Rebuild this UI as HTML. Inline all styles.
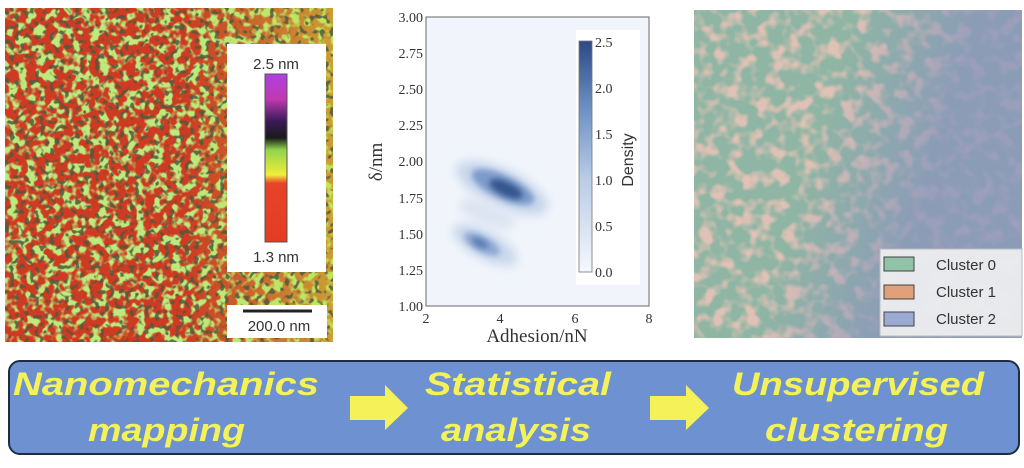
<!DOCTYPE html>
<html><head><meta charset="utf-8"><style>
html,body{margin:0;padding:0;background:#fff;width:1024px;height:468px;overflow:hidden}
svg{display:block}
</style></head><body>
<svg width="1024" height="468" viewBox="0 0 1024 468" xmlns="http://www.w3.org/2000/svg">
<defs>
<filter id="green" x="0" y="0" width="100%" height="100%">
<feTurbulence type="fractalNoise" baseFrequency="0.11" numOctaves="2" seed="4"/>
<feColorMatrix type="matrix" values="0 0 0 0 0.5  0 0 0 0 0.82  0 0 0 0 0.2  7 0 0 0 -3.3"/>
</filter>
<filter id="dark" x="0" y="0" width="100%" height="100%">
<feTurbulence type="fractalNoise" baseFrequency="0.2" numOctaves="1" seed="9"/>
<feColorMatrix type="matrix" values="0 0 0 0 0.08  0 0 0 0 0.1  0 0 0 0 0.05  9 0 0 0 -4.9"/>
</filter>
<filter id="orange" x="0" y="0" width="100%" height="100%">
<feTurbulence type="fractalNoise" baseFrequency="0.07" numOctaves="2" seed="7"/>
<feColorMatrix type="matrix" values="0 0 0 0 0.74  0 0 0 0 0.54  0 0 0 0 0.46  4 0 0 0 -1.8"/>
</filter>
<filter id="bl" x="-50%" y="-50%" width="200%" height="200%"><feGaussianBlur stdDeviation="5"/></filter>
<filter id="bl2" x="-50%" y="-50%" width="200%" height="200%"><feGaussianBlur stdDeviation="3"/></filter>
<linearGradient id="yel" x1="0" x2="1" y1="0" y2="0">
<stop offset="0.55" stop-color="#b8dc48" stop-opacity="0"/><stop offset="1" stop-color="#c8e040" stop-opacity="0.6"/>
</linearGradient>
<linearGradient id="blu" x1="0" x2="1" y1="0" y2="0.3">
<stop offset="0.45" stop-color="#8a96bb" stop-opacity="0"/><stop offset="0.8" stop-color="#8a96bb" stop-opacity="0.8"/>
</linearGradient>
<linearGradient id="cb" x1="0" x2="0" y1="1" y2="0">
<stop offset="0" stop-color="#f5f8fc"/><stop offset="0.4" stop-color="#b9cde6"/><stop offset="0.7" stop-color="#6f92c4"/><stop offset="1" stop-color="#2c4a86"/>
</linearGradient>
<linearGradient id="afm" x1="0" x2="0" y1="1" y2="0">
<stop offset="0" stop-color="#e33c22"/><stop offset="0.35" stop-color="#e8442a"/><stop offset="0.4" stop-color="#f1ee3a"/><stop offset="0.55" stop-color="#8fd34a"/><stop offset="0.62" stop-color="#1a1a1a"/><stop offset="0.72" stop-color="#3a1a5a"/><stop offset="0.85" stop-color="#c03ab0"/><stop offset="1" stop-color="#b040e0"/>
</linearGradient>
</defs>

<rect x="5" y="8" width="328" height="334" fill="#cf3a22"/>
<rect x="5" y="8" width="328" height="334" filter="url(#green)"/>
<rect x="5" y="8" width="328" height="334" fill="url(#yel)"/>
<rect x="5" y="8" width="328" height="334" filter="url(#dark)" opacity="0.85"/>
<rect x="227" y="44" width="99" height="228" fill="#fff"/>
<text x="276" y="69" font-family="Liberation Sans, sans-serif" font-size="15" text-anchor="middle" fill="#333">2.5 nm</text>
<rect x="265" y="74" width="22" height="168" fill="url(#afm)" stroke="#555" stroke-width="1"/>
<text x="276" y="262" font-family="Liberation Sans, sans-serif" font-size="15" text-anchor="middle" fill="#333">1.3 nm</text>
<rect x="227" y="305" width="100" height="33" fill="#fff"/>
<line x1="243" y1="311" x2="312" y2="311" stroke="#222" stroke-width="3"/>
<text x="279" y="331" font-family="Liberation Sans, sans-serif" font-size="15" text-anchor="middle" fill="#333">200.0 nm</text>

<rect x="426" y="17" width="223" height="289" fill="#f1f5fb"/>
<g>
<ellipse cx="502" cy="188" rx="50" ry="19" transform="rotate(25 502 188)" fill="#c7d6eb" filter="url(#bl)"/>
<ellipse cx="487" cy="214" rx="30" ry="11" transform="rotate(22 487 214)" fill="#dbe4f1" filter="url(#bl)"/>
<ellipse cx="485" cy="245" rx="36" ry="14" transform="rotate(28 485 245)" fill="#c9d7ec" filter="url(#bl)"/>
<ellipse cx="503" cy="187" rx="34" ry="12" transform="rotate(25 503 187)" fill="#7d9bcb" filter="url(#bl2)"/>
<ellipse cx="506" cy="189" rx="18" ry="7" transform="rotate(25 506 189)" fill="#34578f" filter="url(#bl2)"/>
<ellipse cx="482" cy="244" rx="20" ry="8" transform="rotate(28 482 244)" fill="#8eaad4" filter="url(#bl2)"/>
<ellipse cx="480" cy="243" rx="9" ry="4" transform="rotate(28 480 243)" fill="#5a7ab0" filter="url(#bl2)"/>
</g>
<rect x="576" y="30" width="64" height="255" fill="#fff"/>
<rect x="579" y="41" width="13" height="231" fill="url(#cb)" stroke="#777" stroke-width="0.8"/>
<g font-family="Liberation Serif, serif" font-size="14" fill="#333">
<text x="595" y="47">2.5</text><text x="595" y="93">2.0</text><text x="595" y="139">1.5</text><text x="595" y="185">1.0</text><text x="595" y="231">0.5</text><text x="595" y="277">0.0</text>
</g>
<text transform="translate(633 160) rotate(-90)" font-family="Liberation Sans, sans-serif" font-size="16" text-anchor="middle" fill="#333">Density</text>
<rect x="426" y="17" width="223" height="289" fill="none" stroke="#666" stroke-width="1"/>
<g font-family="Liberation Serif, serif" font-size="14" fill="#333" text-anchor="end">
<text x="423" y="22">3.00</text><text x="423" y="58">2.75</text><text x="423" y="94">2.50</text><text x="423" y="130">2.25</text><text x="423" y="166">2.00</text><text x="423" y="203">1.75</text><text x="423" y="239">1.50</text><text x="423" y="275">1.25</text><text x="423" y="311">1.00</text>
</g>
<g font-family="Liberation Serif, serif" font-size="14" fill="#333" text-anchor="middle">
<text x="426" y="323">2</text><text x="500" y="323">4</text><text x="575" y="323">6</text><text x="649" y="323">8</text>
</g>
<text x="537" y="342" font-family="Liberation Serif, serif" font-size="19" text-anchor="middle" fill="#333">Adhesion/nN</text>
<text transform="translate(382 162) rotate(-90)" font-family="Liberation Serif, serif" font-size="19" text-anchor="middle" fill="#333">δ/nm</text>

<rect x="694" y="10" width="328" height="328" fill="#8fb5a4"/>
<rect x="694" y="10" width="328" height="328" filter="url(#orange)"/>
<rect x="694" y="10" width="328" height="328" fill="url(#blu)"/>
<rect x="880" y="249" width="142" height="87" fill="#f2f2f2" fill-opacity="0.9" stroke="#bbb"/>
<rect x="884" y="257" width="30" height="14" fill="#8fc2a6" stroke="#444"/>
<rect x="884" y="285" width="30" height="14" fill="#e0a07a" stroke="#444"/>
<rect x="884" y="312" width="30" height="14" fill="#9aaad2" stroke="#444"/>
<g font-family="Liberation Sans, sans-serif" font-size="15" fill="#333">
<text x="936" y="270">Cluster 0</text><text x="936" y="297">Cluster 1</text><text x="936" y="324">Cluster 2</text>
</g>

<rect x="9" y="361" width="1010" height="93" rx="11" fill="#6d91d1" stroke="#1f2d44" stroke-width="2"/>
<g font-family="Liberation Sans, sans-serif" font-size="32" font-weight="bold" font-style="italic" fill="#f4f258" text-anchor="start">
<text x="13" y="395" textLength="306" lengthAdjust="spacingAndGlyphs">Nanomechanics</text>
<text x="88" y="441" textLength="157" lengthAdjust="spacingAndGlyphs">mapping</text>
<text x="425" y="395" textLength="186" lengthAdjust="spacingAndGlyphs">Statistical</text>
<text x="441" y="441" textLength="150" lengthAdjust="spacingAndGlyphs">analysis</text>
<text x="732" y="395" textLength="252" lengthAdjust="spacingAndGlyphs">Unsupervised</text>
<text x="765" y="441" textLength="183" lengthAdjust="spacingAndGlyphs">clustering</text>
</g>
<polygon points="350,396 385,396 385,385 408,408 385,430 385,420 350,420" fill="#f4f258"/>
<polygon points="650,396 686,396 686,385 709,408 686,430 686,420 650,420" fill="#f4f258"/>
</svg>
</body></html>
